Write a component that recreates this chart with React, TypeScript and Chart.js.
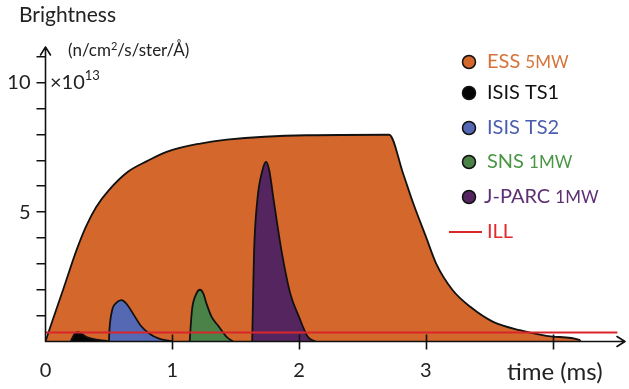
import React, { useEffect, useRef } from 'react';
import { Chart, registerables } from 'chart.js';

Chart.register(...registerables);

// ---- data (time in ms, brightness in 1e13 n/cm²/s/ster/Å) ----
const xTickValues = [0, 1, 2, 3, 4];
const xLabeledTicks = [0, 1, 2, 3];
const yTickValues = [0, 1, 2, 3, 4, 5, 6, 7, 8, 9, 10, 11];
const yLabeledTicks = [5, 10];

const essX = [0, 0.035, 0.14, 0.246, 0.32, 0.4, 0.5, 0.65, 0.8, 0.955, 1.22, 1.43, 2.06, 2.71, 2.82, 2.9, 3.0, 3.08, 3.21, 3.35, 3.53, 3.74, 4.0, 4.21, 4.22];
const essY = [0, 0.52, 2.02, 3.55, 4.45, 5.2, 5.85, 6.56, 6.97, 7.33, 7.65, 7.8, 7.97, 7.99, 6.49, 5.34, 4.05, 3.02, 1.99, 1.34, 0.76, 0.44, 0.19, 0.06, 0];

const ts1X = [0.2, 0.21, 0.23, 0.255, 0.29, 0.33, 0.4, 0.48, 0.5];
const ts1Y = [0, 0.12, 0.3, 0.36, 0.28, 0.16, 0.07, 0.02, 0];

const ts2X = [0.5, 0.505, 0.525, 0.56, 0.6, 0.64, 0.7, 0.75, 0.82, 0.9, 0.98, 1.0];
const ts2Y = [0, 0.5, 1.2, 1.5, 1.6, 1.45, 1.0, 0.62, 0.3, 0.1, 0.02, 0];

const snsX = [1.137, 1.145, 1.156, 1.19, 1.218, 1.245, 1.27, 1.31, 1.36, 1.43, 1.48];
const snsY = [0, 0.6, 1.25, 1.85, 2.0, 1.85, 1.46, 0.95, 0.62, 0.17, 0];

const jparcX = [1.63, 1.638, 1.645, 1.67, 1.71, 1.74, 1.765, 1.8, 1.86, 1.93, 2.0, 2.07, 2.13];
const jparcY = [0, 2.0, 3.5, 5.44, 6.6, 6.94, 6.6, 5.44, 3.54, 1.86, 0.94, 0.17, 0];

const illX = [0, 4.51];
const illY = [0.35, 0.35];

const legendNames = ['ESS', 'ISIS TS1', 'ISIS TS2', 'SNS', 'J-PARC', 'ILL'];
const legendSuffixes = ['5MW', '', '', '1MW', '1MW', ''];

const FONT = 'Lato, "Open Sans", sans-serif';

const toPoints = (xs: number[], ys: number[]) => xs.map((x, i) => ({ x, y: ys[i] }));

const fills = {
  ess: '#D3672C',
  ts1: '#050505',
  ts2: '#5468B4',
  sns: '#4A8248',
  jparc: '#552560',
  ill: '#D9262B',
};

const legendItems = [
  { fill: fills.ess, text: '#D6733A', marker: 'dot' },
  { fill: fills.ts1, text: '#111111', marker: 'dot' },
  { fill: fills.ts2, text: '#4A5DB0', marker: 'dot' },
  { fill: fills.sns, text: '#4A9645', marker: 'dot' },
  { fill: fills.jparc, text: '#5E2F73', marker: 'dot' },
  { fill: fills.ill, text: '#E02A2E', marker: 'line' },
];
const legendRowsY = [62, 93, 128, 162, 197, 232];

const decorPlugin = {
  id: 'decor',
  afterDraw(chart: any) {
    const ctx: CanvasRenderingContext2D = chart.ctx;
    const { left, right, top, bottom } = chart.chartArea;
    const xs = chart.scales.x;
    ctx.save();
    ctx.strokeStyle = '#111';
    ctx.lineWidth = 1.6;
    ctx.lineCap = 'round';
    ctx.lineJoin = 'round';
    // axes with arrowheads
    ctx.beginPath();
    ctx.moveTo(left - 5, top + 8);
    ctx.lineTo(left, top);
    ctx.lineTo(left + 5, top + 8);
    ctx.moveTo(left, top);
    ctx.lineTo(left, bottom);
    ctx.moveTo(right - 8, bottom - 5);
    ctx.lineTo(right, bottom);
    ctx.lineTo(right - 8, bottom + 5);
    ctx.moveTo(left, bottom);
    ctx.lineTo(right, bottom);
    ctx.stroke();
    // crossing x ticks
    ctx.lineCap = 'butt';
    ctx.beginPath();
    xTickValues.forEach((v) => {
      if (v === 0) return;
      const px = Math.round(xs.getPixelForValue(v)) + 0.5;
      ctx.moveTo(px, bottom - 7);
      ctx.lineTo(px, bottom + 8);
    });
    ctx.stroke();

    // titles
    ctx.fillStyle = '#222';
    ctx.textBaseline = 'middle';
    ctx.textAlign = 'left';
    ctx.font = `21px ${FONT}`;
    ctx.fillText('Brightness', 19, 15);

    let x = 68;
    ctx.font = `17px ${FONT}`;
    ctx.fillText('(n/cm', x, 51);
    x += ctx.measureText('(n/cm').width;
    ctx.font = `11px ${FONT}`;
    ctx.fillText('2', x, 46);
    x += ctx.measureText('2').width;
    ctx.font = `17px ${FONT}`;
    ctx.fillText('/s/ster/Å)', x, 51);

    x = 50;
    ctx.font = `20px ${FONT}`;
    ctx.fillText('×10', x, 83);
    x += ctx.measureText('×10').width;
    ctx.font = `13px ${FONT}`;
    ctx.fillText('13', x, 76);

    ctx.font = `24px ${FONT}`;
    ctx.fillText('time (ms)', 507, 372);

    // legend
    legendNames.forEach((name, i) => {
      const item = legendItems[i];
      const cy = legendRowsY[i];
      if (item.marker === 'dot') {
        ctx.beginPath();
        ctx.arc(469, cy, 6.5, 0, Math.PI * 2);
        ctx.fillStyle = item.fill;
        ctx.fill();
        ctx.lineWidth = 1.5;
        ctx.strokeStyle = '#111';
        ctx.stroke();
      } else {
        ctx.beginPath();
        ctx.moveTo(449, cy);
        ctx.lineTo(482, cy);
        ctx.lineWidth = 2;
        ctx.strokeStyle = item.fill;
        ctx.stroke();
      }
      ctx.fillStyle = item.text;
      ctx.font = `20px ${FONT}`;
      const tx = name === 'J-PARC' ? 484 : 487;
      ctx.fillText(name, tx, cy);
      if (legendSuffixes[i]) {
        const w = ctx.measureText(name + ' ').width;
        ctx.font = `17px ${FONT}`;
        ctx.fillText(legendSuffixes[i], tx + w, cy + 1);
      }
    });
    ctx.restore();
  },
};

export default function App() {
  const ref = useRef<HTMLCanvasElement | null>(null);
  useEffect(() => {
    if (!ref.current) return;
    const area = (color: string, xs: number[], ys: number[], label: string) => ({
      label,
      data: toPoints(xs, ys),
      borderColor: '#111',
      borderWidth: 1.8,
      backgroundColor: color,
      fill: 'origin',
      pointRadius: 0,
      tension: 0.4,
      cubicInterpolationMode: 'monotone',
    });
    const chart = new Chart(ref.current, {
      type: 'line',
      data: {
        datasets: [
          {
            label: 'ILL',
            data: toPoints(illX, illY),
            borderColor: fills.ill,
            borderWidth: 2,
            pointRadius: 0,
            fill: false,
          } as any,
          area(fills.jparc, jparcX, jparcY, 'J-PARC 1MW'),
          area(fills.sns, snsX, snsY, 'SNS 1MW'),
          area(fills.ts2, ts2X, ts2Y, 'ISIS TS2'),
          area(fills.ts1, ts1X, ts1Y, 'ISIS TS1'),
          area(fills.ess, essX, essY, 'ESS 5MW'),
        ],
      },
      options: {
        animation: false,
        responsive: false,
        layout: { padding: { left: 0, top: 47, right: 4, bottom: 0 } },
        plugins: { legend: { display: false }, tooltip: { enabled: false } },
        scales: {
          x: {
            type: 'linear',
            min: 0,
            max: 4.57,
            z: 1,
            afterBuildTicks: (s: any) => {
              s.ticks = xTickValues.map((v) => ({ value: v }));
            },
            afterFit: (s: any) => {
              s.height = 47.5;
            },
            grid: { display: false, drawTicks: false, tickLength: 0 },
            border: { display: false },
            ticks: {
              padding: 17,
              color: '#222',
              font: { family: FONT, size: 20 },
              maxRotation: 0,
              autoSkip: false,
              callback: (v: any) => (xLabeledTicks.includes(v) ? String(v) : ''),
            },
          },
          y: {
            type: 'linear',
            min: 0,
            max: 11.38,
            z: 1,
            afterBuildTicks: (s: any) => {
              s.ticks = yTickValues.map((v) => ({ value: v }));
            },
            afterFit: (s: any) => {
              s.width = 45.5;
            },
            grid: {
              drawOnChartArea: false,
              drawTicks: true,
              tickLength: 9,
              lineWidth: 1.5,
              color: (c: any) => (c.tick && c.tick.value === 0 ? 'rgba(0,0,0,0)' : '#111'),
            },
            border: { display: false },
            ticks: {
              padding: 6,
              color: '#222',
              font: { family: FONT, size: 20 },
              autoSkip: false,
              callback: (v: any) => (yLabeledTicks.includes(v) ? String(v) : ''),
            },
          },
        },
      },
      plugins: [decorPlugin],
    } as any);
    return () => chart.destroy();
  }, []);
  return (
    <div style={{ position: 'absolute', left: 0, top: 0, width: 629, height: 389, background: '#fff' }}>
      <canvas ref={ref} width={629} height={389} />
    </div>
  );
}
